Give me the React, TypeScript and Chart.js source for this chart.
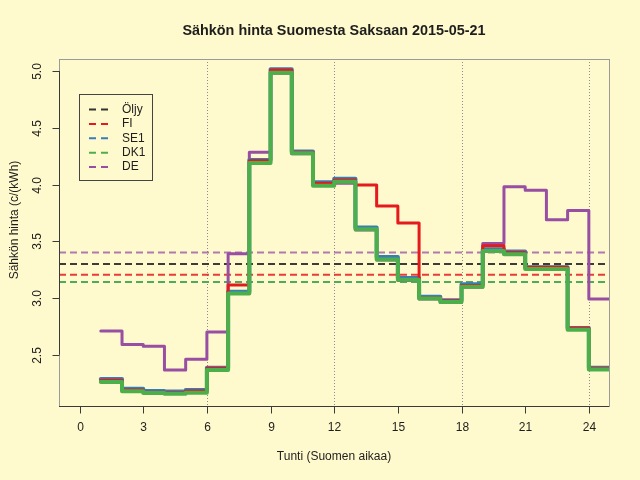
import React, { useEffect, useRef } from 'react';
import { Chart, registerables } from 'chart.js';

Chart.register(...registerables);

const hours = [1, 2, 3, 4, 5, 6, 7, 8, 9, 10, 11, 12, 13, 14, 15, 16, 17, 18, 19, 20, 21, 22, 23, 24];
const fiPrice = [2.275, 2.19, 2.17, 2.165, 2.18, 2.38, 3.115, 4.21, 5.01, 4.285, 4.01, 4.04, 3.995, 3.81, 3.66, 3.0, 2.975, 3.11, 3.46, 3.4, 3.27, 3.27, 2.735, 2.38];
const se1Price = [2.285, 2.2, 2.18, 2.175, 2.19, 2.385, 3.055, 4.215, 5.015, 4.29, 4.02, 4.05, 3.62, 3.36, 3.175, 3.01, 2.98, 3.12, 3.43, 3.41, 3.27, 3.27, 2.735, 2.385];
const dk1Price = [2.26, 2.178, 2.163, 2.155, 2.165, 2.366, 3.04, 4.19, 4.985, 4.275, 3.99, 4.025, 3.605, 3.34, 3.16, 2.995, 2.965, 3.1, 3.415, 3.385, 3.255, 3.255, 2.72, 2.37];
const dePrice = [2.71, 2.59, 2.575, 2.365, 2.46, 2.7, 3.39, 4.285, 4.98, 4.27, 4.0, 4.01, 3.6, 3.335, 3.155, 2.99, 2.96, 3.095, 3.48, 3.98, 3.95, 3.69, 3.77, 2.99];

const legendLabels = ['Öljy', 'FI', 'SE1', 'DK1', 'DE'];
const legendColors = ['#333333', '#E41A1C', '#377EB8', '#4DAF4A', '#984EA3'];
const levelColors = ['rgba(40,40,40,0.9)', 'rgba(228,26,28,0.85)', 'rgba(55,126,184,0.85)', 'rgba(77,175,74,0.85)', 'rgba(152,78,163,0.75)'];
const meanLevels = [3.3, 3.205, 3.14, 3.14, 3.4];

const xTicks = [0, 3, 6, 9, 12, 15, 18, 21, 24];
const yTicks = [2.5, 3.0, 3.5, 4.0, 4.5, 5.0];
const gridHours = [6, 12, 18, 24];

const X_MIN = -0.97;
const X_MAX = 24.95;
const Y_MIN = 2.048;
const Y_MAX = 5.106;

const TITLE = 'Sähkön hinta Suomesta Saksaan 2015-05-21';
const X_LABEL = 'Tunti (Suomen aikaa)';
const Y_LABEL = 'Sähkön hinta (c/(kWh)';

const BG = '#FFFACD';
const FONT = '"Liberation Sans", Arial, Helvetica, sans-serif';
const TEXT = '#1e1e1e';

const stepData = (vals: number[]) => [
  ...hours.map((h, i) => ({ x: h, y: vals[i] })),
  { x: hours[hours.length - 1] + 1, y: vals[vals.length - 1] },
];

const levelData = (v: number) => [
  { x: X_MIN, y: v },
  { x: X_MAX, y: v },
];

const decorPlugin = {
  id: 'rdecor',
  beforeDraw(chart: any) {
    const ctx = chart.ctx;
    ctx.save();
    ctx.fillStyle = BG;
    ctx.fillRect(0, 0, chart.width, chart.height);
    ctx.restore();
  },
  beforeDatasetsDraw(chart: any) {
    const ctx = chart.ctx;
    const { top, bottom } = chart.chartArea;
    const xs = chart.scales.x;
    ctx.save();
    ctx.strokeStyle = '#8c8c8c';
    ctx.lineWidth = 1;
    ctx.setLineDash([1, 2]);
    gridHours.forEach((h) => {
      const px = Math.round(xs.getPixelForValue(h)) + 0.5;
      ctx.beginPath();
      ctx.moveTo(px, top);
      ctx.lineTo(px, bottom);
      ctx.stroke();
    });
    ctx.restore();
  },
  afterDatasetsDraw(chart: any) {
    const ctx = chart.ctx;
    const { left, right, top, bottom } = chart.chartArea;
    const xs = chart.scales.x;
    const ys = chart.scales.y;
    ctx.save();
    ctx.strokeStyle = '#9a9a9a';
    ctx.lineWidth = 1;
    ctx.strokeRect(Math.round(left) + 0.5, Math.round(top) + 0.5, Math.round(right - left), Math.round(bottom - top));
    ctx.strokeStyle = '#3a3a3a';
    const by = Math.round(bottom) + 0.5;
    ctx.beginPath();
    ctx.moveTo(left, by);
    ctx.lineTo(right, by);
    ctx.stroke();
    const lx = Math.round(left) + 0.5;
    ctx.beginPath();
    ctx.moveTo(lx, ys.getPixelForValue(yTicks[0]));
    ctx.lineTo(lx, ys.getPixelForValue(yTicks[yTicks.length - 1]));
    ctx.stroke();
    ctx.fillStyle = TEXT;
    ctx.font = '12px ' + FONT;
    ctx.textAlign = 'center';
    ctx.textBaseline = 'middle';
    xTicks.forEach((t) => {
      const px = Math.round(xs.getPixelForValue(t)) + 0.5;
      ctx.beginPath();
      ctx.moveTo(px, by);
      ctx.lineTo(px, by + 7);
      ctx.stroke();
      ctx.fillText(String(t), px, 428);
    });
    yTicks.forEach((t) => {
      const py = Math.round(ys.getPixelForValue(t)) + 0.5;
      ctx.beginPath();
      ctx.moveTo(lx, py);
      ctx.lineTo(lx - 7, py);
      ctx.stroke();
      ctx.save();
      ctx.translate(38, py);
      ctx.rotate(-Math.PI / 2);
      ctx.fillText(t.toFixed(1), 0, 0);
      ctx.restore();
    });
    ctx.fillText(X_LABEL, (left + right) / 2, 457);
    ctx.save();
    ctx.translate(15, 220);
    ctx.rotate(-Math.PI / 2);
    ctx.fillText(Y_LABEL, 0, 0);
    ctx.restore();
    ctx.font = 'bold 14.4px ' + FONT;
    ctx.fillText(TITLE, (left + right) / 2, 31);
    const bx = 79.5, bTop = 94.5, bw = 73, bh = 86;
    ctx.fillStyle = BG;
    ctx.fillRect(bx, bTop, bw, bh);
    ctx.strokeStyle = '#444444';
    ctx.strokeRect(bx, bTop, bw, bh);
    ctx.font = '12px ' + FONT;
    ctx.textAlign = 'left';
    legendLabels.forEach((lab, i) => {
      const yy = 109.5 + i * 14.4;
      ctx.strokeStyle = legendColors[i];
      ctx.lineWidth = 2;
      ctx.setLineDash([7, 5]);
      ctx.beginPath();
      ctx.moveTo(89, yy);
      ctx.lineTo(108, yy);
      ctx.stroke();
      ctx.setLineDash([]);
      ctx.fillStyle = TEXT;
      ctx.fillText(lab, 122, yy);
    });
    ctx.restore();
  },
};

const stepStyle = (color: string, width: number) => ({
  borderColor: color,
  backgroundColor: color,
  borderWidth: width,
  stepped: true,
  pointRadius: 0,
  fill: false,
  borderCapStyle: 'round' as const,
  borderJoinStyle: 'round' as const,
});

const levelStyle = (color: string) => ({
  borderColor: color,
  backgroundColor: color,
  borderWidth: 2,
  borderDash: [7, 4],
  pointRadius: 0,
  fill: false,
});

export default function App() {
  const ref = useRef<HTMLCanvasElement | null>(null);
  useEffect(() => {
    if (!ref.current) return;
    const chart = new Chart(ref.current, {
      type: 'line',
      data: {
        datasets: [
          { label: 'DK1', data: stepData(dk1Price), ...stepStyle(legendColors[3], 4) },
          { label: 'FI', data: stepData(fiPrice), ...stepStyle(legendColors[1], 3) },
          { label: 'SE1', data: stepData(se1Price), ...stepStyle(legendColors[2], 4) },
          { label: 'DE', data: stepData(dePrice), ...stepStyle(legendColors[4], 3) },
          { label: 'DK1 ka', data: levelData(meanLevels[3]), ...levelStyle(levelColors[3]) },
          { label: 'SE1 ka', data: levelData(meanLevels[2]), ...levelStyle(levelColors[2]) },
          { label: 'FI ka', data: levelData(meanLevels[1]), ...levelStyle(levelColors[1]) },
          { label: 'Öljy', data: levelData(meanLevels[0]), ...levelStyle(levelColors[0]) },
          { label: 'DE ka', data: levelData(meanLevels[4]), ...levelStyle(levelColors[4]) },
        ],
      },
      options: {
        animation: false,
        responsive: false,
        devicePixelRatio: 1,
        layout: { padding: { left: 59, top: 59, right: 31, bottom: 74 } },
        plugins: { legend: { display: false }, tooltip: { enabled: false }, title: { display: false } },
        scales: {
          x: { type: 'linear', min: X_MIN, max: X_MAX, display: false },
          y: { type: 'linear', min: Y_MIN, max: Y_MAX, display: false },
        },
      },
      plugins: [decorPlugin],
    } as any);
    return () => chart.destroy();
  }, []);
  return (
    <div style={{ position: 'fixed', left: 0, top: 0, width: 640, height: 480, background: BG }}>
      <canvas ref={ref} width={640} height={480} style={{ display: 'block', width: 640, height: 480 }} />
    </div>
  );
}
